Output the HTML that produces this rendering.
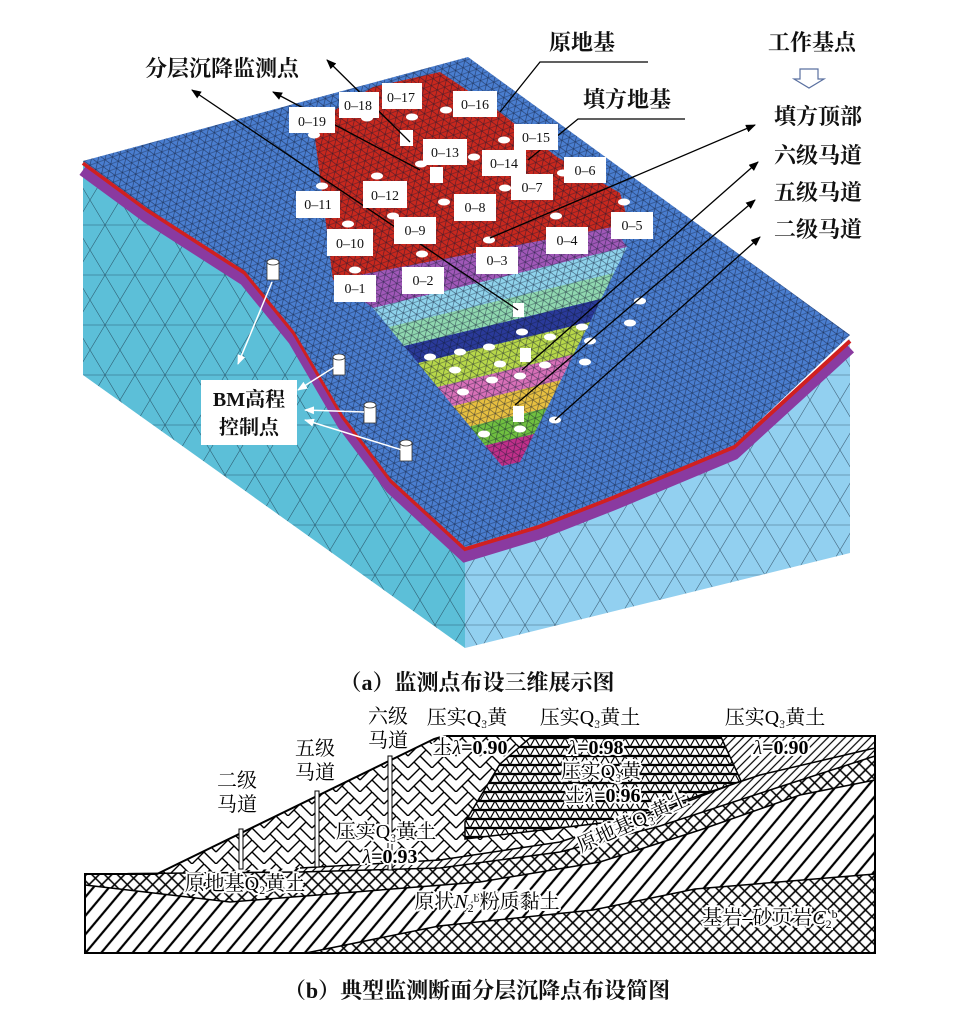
<!DOCTYPE html>
<html><head><meta charset="utf-8"><style>
body{margin:0;background:#fff;width:954px;height:1032px;overflow:hidden}
svg{display:block}
text{font-family:"Liberation Serif","Noto Serif CJK SC","Noto Sans CJK SC",serif}
.l{font-size:22px;font-weight:bold;fill:#111}
.b{font-size:14px;fill:#111}
.s{font-size:20px;fill:#000}
</style></head><body>
<svg width="954" height="1032" viewBox="0 0 954 1032" xmlns="http://www.w3.org/2000/svg">
<defs>
<pattern id="mesh" width="16" height="12" patternUnits="userSpaceOnUse" patternTransform="rotate(-20)">
<path d="M0 0H16M0 6H16M0 12H16M0 0L8 12M8 0L16 12M8 0L0 12M16 0L8 12" stroke="#101830" stroke-width="0.6" opacity="0.7" fill="none"/>
</pattern>
<pattern id="mesh2" width="60" height="50" patternUnits="userSpaceOnUse">
<path d="M0 0L30 50L60 0M0 50L30 0L60 50M0 25H60" stroke="#123" stroke-width="0.6" opacity="0.6" fill="none"/>
</pattern>
<pattern id="diag" width="12" height="12" patternUnits="userSpaceOnUse" patternTransform="rotate(40)">
<rect width="12" height="12" fill="#fff"/><line x1="6" y1="0" x2="6" y2="12" stroke="#000" stroke-width="2.2"/>
</pattern>
<pattern id="fine" width="6" height="6" patternUnits="userSpaceOnUse" patternTransform="rotate(45)">
<rect width="6" height="6" fill="#fff"/><line x1="3" y1="0" x2="3" y2="6" stroke="#000" stroke-width="1.2"/>
</pattern>
<pattern id="cross" width="9" height="9" patternUnits="userSpaceOnUse" patternTransform="rotate(45)">
<rect width="9" height="9" fill="#fff"/><path d="M4.5 0V9M0 4.5H9" stroke="#000" stroke-width="1.6"/>
</pattern>
<pattern id="tri" width="10" height="9" patternUnits="userSpaceOnUse">
<rect width="10" height="9" fill="#fff"/><path d="M0 9L5 0L10 9M0 8.5H10M0 0.5H10" stroke="#000" stroke-width="1.2" fill="none"/>
</pattern>
<pattern id="herr" width="24" height="24" patternUnits="userSpaceOnUse">
<rect width="24" height="24" fill="#fff"/><path d="M0 12L12 0L24 12M0 24L12 12L24 24M12 12L18 6M6 18L12 24" stroke="#000" stroke-width="1.4" fill="none"/>
</pattern>
<marker id="ar" markerWidth="10" markerHeight="8" refX="9" refY="4" orient="auto" markerUnits="userSpaceOnUse"><path d="M0 0L10 4L0 8z" fill="#000"/></marker>
<marker id="aw" markerWidth="10" markerHeight="8" refX="9" refY="4" orient="auto" markerUnits="userSpaceOnUse"><path d="M0 0L10 4L0 8z" fill="#fff"/></marker>
</defs>

<polygon points="83,161 147,208 245,271 294,331 343,415 391,479 465,547 465,648 83,375" fill="#5cbfd8"/>
<polygon points="83,161 147,208 245,271 294,331 343,415 391,479 465,547 465,648 83,375" fill="url(#mesh2)"/>
<polygon points="465,547 538,525 612,496 734,445 850,339 850,553 465,648" fill="#92d0f0"/>
<polygon points="465,547 538,525 612,496 734,445 850,339 850,553 465,648" fill="url(#mesh2)"/>
<polyline points="83,170 147,217 245,280 294,340 343,424 391,488 465,556 538,534 612,505 734,454 850,348" fill="none" stroke="#8a3aa0" stroke-width="12"/>
<polyline points="83,163 147,210 245,273 294,333 343,417 391,481 465,549 538,527 612,498 734,447 850,341" fill="none" stroke="#d02020" stroke-width="4"/>
<polygon points="83,161 468,57 850,335 734,445 612,496 538,525 465,547 391,479 343,415 294,331 245,271 147,208" fill="#4a7ed0"/>
<polygon points="313,123 373,87 440,72 497,110 557,157 620,193 627,217 613,227 333,280 323,200" fill="#c8281e"/>
<polygon points="333,280 613,227 627,247 373,308" fill="#a058b8"/>
<polygon points="373,308 627,247 614,273 388.5,327" fill="#8fd3ec"/>
<polygon points="388.5,327 614,273 601,299 404,346" fill="#90d8b0"/>
<polygon points="404,346 601,299 590,322 418,363" fill="#2a3a9a"/>
<polygon points="418,363 590,322 573.5,354.5 437.5,387" fill="#b8d84a"/>
<polygon points="437.5,387 573.5,354.5 561,380 453,406" fill="#d870b8"/>
<polygon points="453,406 561,380 547,408 470,426.5" fill="#e8c040"/>
<polygon points="470,426.5 547,408 534,434 485,445.5" fill="#70c040"/>
<polygon points="485,445.5 534,434 520,462 502,466" fill="#c0308a"/>
<polygon points="83,161 468,57 850,335 734,445 612,496 538,525 465,547 391,479 343,415 294,331 245,271 147,208" fill="url(#mesh)"/>

<g fill="#fff">
<ellipse cx="367" cy="118" rx="6" ry="3.5"/><ellipse cx="412" cy="117" rx="6" ry="3.5"/><ellipse cx="446" cy="110" rx="6" ry="3.5"/>
<ellipse cx="314" cy="135" rx="6" ry="3.5"/><ellipse cx="504" cy="140" rx="6" ry="3.5"/><ellipse cx="474" cy="157" rx="6" ry="3.5"/>
<ellipse cx="421" cy="164" rx="6" ry="3.5"/><ellipse cx="377" cy="176" rx="6" ry="3.5"/><ellipse cx="322" cy="186" rx="6" ry="3.5"/>
<ellipse cx="505" cy="188" rx="6" ry="3.5"/><ellipse cx="563" cy="173" rx="6" ry="3.5"/><ellipse cx="444" cy="202" rx="6" ry="3.5"/>
<ellipse cx="624" cy="202" rx="6" ry="3.5"/><ellipse cx="556" cy="216" rx="6" ry="3.5"/><ellipse cx="393" cy="216" rx="6" ry="3.5"/>
<ellipse cx="348" cy="224" rx="6" ry="3.5"/><ellipse cx="489" cy="240" rx="6" ry="3.5"/><ellipse cx="422" cy="254" rx="6" ry="3.5"/>
<ellipse cx="355" cy="270" rx="6" ry="3.5"/>
<ellipse cx="640" cy="301" rx="6" ry="3.5"/><ellipse cx="630" cy="323" rx="6" ry="3.5"/><ellipse cx="582" cy="327" rx="6" ry="3.5"/>
<ellipse cx="550" cy="337" rx="6" ry="3.5"/><ellipse cx="522" cy="332" rx="6" ry="3.5"/><ellipse cx="489" cy="347" rx="6" ry="3.5"/>
<ellipse cx="460" cy="352" rx="6" ry="3.5"/><ellipse cx="430" cy="357" rx="6" ry="3.5"/><ellipse cx="590" cy="341" rx="6" ry="3.5"/>
<ellipse cx="585" cy="362" rx="6" ry="3.5"/><ellipse cx="545" cy="365" rx="6" ry="3.5"/><ellipse cx="500" cy="364" rx="6" ry="3.5"/>
<ellipse cx="455" cy="370" rx="6" ry="3.5"/><ellipse cx="520" cy="376" rx="6" ry="3.5"/><ellipse cx="492" cy="380" rx="6" ry="3.5"/>
<ellipse cx="463" cy="392" rx="6" ry="3.5"/><ellipse cx="555" cy="420" rx="6" ry="3.5"/><ellipse cx="484" cy="434" rx="6" ry="3.5"/><ellipse cx="520" cy="429" rx="6" ry="3.5"/>
<rect x="400" y="130" width="13" height="16"/><rect x="430" y="167" width="13" height="16"/>
<rect x="513" y="303" width="11" height="14"/><rect x="520" y="348" width="11" height="14"/><rect x="513" y="406" width="11" height="16"/>
</g>
<g fill="#fff" stroke="#333" stroke-width="0.8">
<rect x="267" y="262" width="12" height="18"/><ellipse cx="273" cy="262" rx="6" ry="3"/>
<rect x="333" y="357" width="12" height="18"/><ellipse cx="339" cy="357" rx="6" ry="3"/>
<rect x="364" y="405" width="12" height="18"/><ellipse cx="370" cy="405" rx="6" ry="3"/>
<rect x="400" y="443" width="12" height="18"/><ellipse cx="406" cy="443" rx="6" ry="3"/>
</g>

<g stroke="#000" stroke-width="1.3" fill="none">
<line x1="518" y1="310" x2="192" y2="90" marker-end="url(#ar)"/>
<line x1="420" y1="170" x2="273" y2="92" marker-end="url(#ar)"/>
<line x1="410" y1="142" x2="327" y2="60" marker-end="url(#ar)"/>
<polyline points="648,62 540,62 500,112"/>
<polyline points="685,119 578,119 528,160"/>
<line x1="490" y1="238" x2="755" y2="125" marker-end="url(#ar)"/>
<line x1="522" y1="370" x2="758" y2="162" marker-end="url(#ar)"/>
<line x1="515" y1="405" x2="755" y2="200" marker-end="url(#ar)"/>
<line x1="555" y1="420" x2="760" y2="237" marker-end="url(#ar)"/>
</g>
<g stroke="#fff" stroke-width="1.5">
<line x1="272" y1="282" x2="238" y2="364" marker-end="url(#aw)"/>
<line x1="336" y1="366" x2="298" y2="390" marker-end="url(#aw)"/>
<line x1="364" y1="412" x2="305" y2="410" marker-end="url(#aw)"/>
<line x1="402" y1="450" x2="305" y2="420" marker-end="url(#aw)"/>
</g>

<g>
<rect x="289" y="107" width="46" height="26" fill="#fff"/><text class="b" x="312" y="126" text-anchor="middle">0–19</text>
<rect x="339" y="92" width="40" height="26" fill="#fff"/><text class="b" x="358" y="110" text-anchor="middle">0–18</text>
<rect x="382" y="83" width="40" height="26" fill="#fff"/><text class="b" x="401" y="102" text-anchor="middle">0–17</text>
<rect x="453" y="91" width="44" height="26" fill="#fff"/><text class="b" x="475" y="109" text-anchor="middle">0–16</text>
<rect x="514" y="124" width="44" height="26" fill="#fff"/><text class="b" x="536" y="142" text-anchor="middle">0–15</text>
<rect x="423" y="139" width="44" height="26" fill="#fff"/><text class="b" x="445" y="157" text-anchor="middle">0–13</text>
<rect x="482" y="150" width="44" height="26" fill="#fff"/><text class="b" x="504" y="168" text-anchor="middle">0–14</text>
<rect x="564" y="157" width="42" height="26" fill="#fff"/><text class="b" x="585" y="175" text-anchor="middle">0–6</text>
<rect x="511" y="174" width="42" height="26" fill="#fff"/><text class="b" x="532" y="192" text-anchor="middle">0–7</text>
<rect x="363" y="181" width="44" height="27" fill="#fff"/><text class="b" x="385" y="200" text-anchor="middle">0–12</text>
<rect x="296" y="191" width="44" height="27" fill="#fff"/><text class="b" x="318" y="209" text-anchor="middle">0–11</text>
<rect x="454" y="194" width="42" height="27" fill="#fff"/><text class="b" x="475" y="212" text-anchor="middle">0–8</text>
<rect x="394" y="217" width="42" height="27" fill="#fff"/><text class="b" x="415" y="235" text-anchor="middle">0–9</text>
<rect x="611" y="212" width="42" height="27" fill="#fff"/><text class="b" x="632" y="230" text-anchor="middle">0–5</text>
<rect x="546" y="227" width="42" height="27" fill="#fff"/><text class="b" x="567" y="245" text-anchor="middle">0–4</text>
<rect x="327" y="229" width="46" height="27" fill="#fff"/><text class="b" x="350" y="248" text-anchor="middle">0–10</text>
<rect x="476" y="247" width="42" height="27" fill="#fff"/><text class="b" x="497" y="265" text-anchor="middle">0–3</text>
<rect x="402" y="267" width="42" height="27" fill="#fff"/><text class="b" x="423" y="285" text-anchor="middle">0–2</text>
<rect x="334" y="275" width="42" height="27" fill="#fff"/><text class="b" x="355" y="293" text-anchor="middle">0–1</text>
</g>
<rect x="201" y="380" width="96" height="65" fill="#fff"/>
<text class="l" x="249" y="406" text-anchor="middle" style="font-size:20px">BM高程</text>
<text class="l" x="249" y="434" text-anchor="middle" style="font-size:20px">控制点</text>

<text class="l" x="222" y="76" text-anchor="middle">分层沉降监测点</text>
<text class="l" x="582" y="50" text-anchor="middle">原地基</text>
<text class="l" x="812" y="50" text-anchor="middle">工作基点</text>
<path d="M800 69H818V79H824L809 88L794 79H800Z" fill="#fff" stroke="#5a70a0" stroke-width="1.2"/>
<text class="l" x="627" y="107" text-anchor="middle">填方地基</text>
<text class="l" x="818" y="124" text-anchor="middle">填方顶部</text>
<text class="l" x="818" y="163" text-anchor="middle">六级马道</text>
<text class="l" x="818" y="200" text-anchor="middle">五级马道</text>
<text class="l" x="818" y="237" text-anchor="middle">二级马道</text>
<text class="l" x="477" y="690" text-anchor="middle">（a）监测点布设三维展示图</text>

<polygon points="85,874 157,874 434,739 444,736 875,736 875,953 85,953" fill="url(#diag)"/>
<polygon points="306,953 439,926 593,910 695,889 875,874 875,953" fill="url(#cross)"/>
<polygon points="157,874 434,739 444,736 875,736 875,748 760,775 650,812 560,842 440,860 300,868" fill="url(#herr)"/>
<polygon points="721,737 875,736 875,748 760,775 740,781" fill="url(#fine)"/>
<polygon points="531,737 721,737 741,781 644,818 465,839 465,822 500,764" fill="url(#tri)"/>
<polygon points="300,868 440,860 560,842 650,812 760,775 875,748 875,756 770,790 660,826 560,852 440,870 300,878" fill="url(#fine)"/>
<polygon points="85,874 300,872 440,868 560,852 660,826 770,790 875,756 875,780 800,795 700,830 600,862 480,882 330,894 230,902 85,885" fill="url(#cross)"/>
<g fill="none" stroke="#000" stroke-width="1.5">
<polyline points="306,953 439,926 593,910 695,889 875,874"/>
<polyline points="85,874 300,872 440,868 560,852 660,826 770,790 875,756"/>
<polyline points="85,885 230,902 330,894 480,882 600,862 700,830 800,795 875,780"/>
<polyline points="300,868 440,860 560,842 650,812 760,775 875,748"/>
<polygon points="531,737 721,737 741,781 644,818 465,839 465,822 500,764"/>
</g>
<polygon points="85,874 157,874 434,739 444,736 875,736 875,953 85,953" fill="none" stroke="#000" stroke-width="2"/>
<g stroke="#000" stroke-width="1" fill="#fff">
<rect x="239" y="829" width="4" height="40"/><rect x="315" y="791" width="4" height="76"/><rect x="388" y="756" width="4" height="114"/>
</g>
<g>
<text class="s" x="388" y="723" text-anchor="middle">六级</text><text class="s" x="388" y="747" text-anchor="middle">马道</text>
<text class="s" x="315" y="755" text-anchor="middle">五级</text><text class="s" x="315" y="779" text-anchor="middle">马道</text>
<text class="s" x="237" y="787" text-anchor="middle">二级</text><text class="s" x="237" y="811" text-anchor="middle">马道</text>
<text class="s" x="467" y="724" text-anchor="middle" style="paint-order:stroke" stroke="#fff" stroke-width="4">压实Q<tspan font-size="12" dy="4">3</tspan><tspan dy="-4">黄</tspan></text>
<text class="s" x="590" y="724" text-anchor="middle" stroke="#fff" stroke-width="4" style="paint-order:stroke">压实Q<tspan font-size="12" dy="4">3</tspan><tspan dy="-4">黄土</tspan></text>
<text class="s" x="775" y="724" text-anchor="middle" stroke="#fff" stroke-width="4" style="paint-order:stroke">压实Q<tspan font-size="12" dy="4">3</tspan><tspan dy="-4">黄土</tspan></text>
<text class="s" x="470" y="754" text-anchor="middle" stroke="#fff" stroke-width="4" style="paint-order:stroke">土<tspan font-style="italic">λ</tspan><tspan font-weight="bold">=0.90</tspan></text>
<text class="s" x="596" y="754" text-anchor="middle" stroke="#fff" stroke-width="4" style="paint-order:stroke"><tspan font-style="italic">λ</tspan><tspan font-weight="bold">=0.98</tspan></text>
<text class="s" x="781" y="754" text-anchor="middle" stroke="#fff" stroke-width="4" style="paint-order:stroke"><tspan font-style="italic">λ</tspan><tspan font-weight="bold">=0.90</tspan></text>
<text class="s" x="601" y="778" text-anchor="middle" stroke="#fff" stroke-width="4" style="paint-order:stroke">压实Q<tspan font-size="12" dy="4">3</tspan><tspan dy="-4">黄</tspan></text>
<text class="s" x="603" y="802" text-anchor="middle" stroke="#fff" stroke-width="4" style="paint-order:stroke">土<tspan font-style="italic">λ</tspan><tspan font-weight="bold">=0.96</tspan></text>
<text class="s" x="386" y="838" text-anchor="middle" stroke="#fff" stroke-width="4" style="paint-order:stroke">压实Q<tspan font-size="12" dy="4">3</tspan><tspan dy="-4">黄土</tspan></text>
<text class="s" x="390" y="863" text-anchor="middle" stroke="#fff" stroke-width="4" style="paint-order:stroke"><tspan font-style="italic">λ</tspan><tspan font-weight="bold">=0.93</tspan></text>
<text class="s" x="636" y="828" text-anchor="middle" transform="rotate(-24 636 828)" stroke="#fff" stroke-width="4" style="paint-order:stroke">原地基Q<tspan font-size="12" dy="4">3</tspan><tspan dy="-4">黄土</tspan></text>
<text class="s" x="245" y="890" text-anchor="middle" stroke="#fff" stroke-width="4" style="paint-order:stroke">原地基Q<tspan font-size="12" dy="4">2</tspan><tspan dy="-4">黄土</tspan></text>
<text class="s" x="487" y="908" text-anchor="middle" stroke="#fff" stroke-width="4" style="paint-order:stroke">原状<tspan font-style="italic">N</tspan><tspan font-size="12" dy="4">2</tspan><tspan font-size="12" dy="-10">b</tspan><tspan dy="6">粉质黏土</tspan></text>
<text class="s" x="770" y="924" text-anchor="middle" stroke="#fff" stroke-width="4" style="paint-order:stroke">基岩–砂页岩<tspan font-style="italic">C</tspan><tspan font-size="12" dy="4">2</tspan><tspan font-size="12" dy="-10">b</tspan></text>
</g>
<text class="l" x="477" y="998" text-anchor="middle">（b）典型监测断面分层沉降点布设简图</text>
</svg>
</body></html>
